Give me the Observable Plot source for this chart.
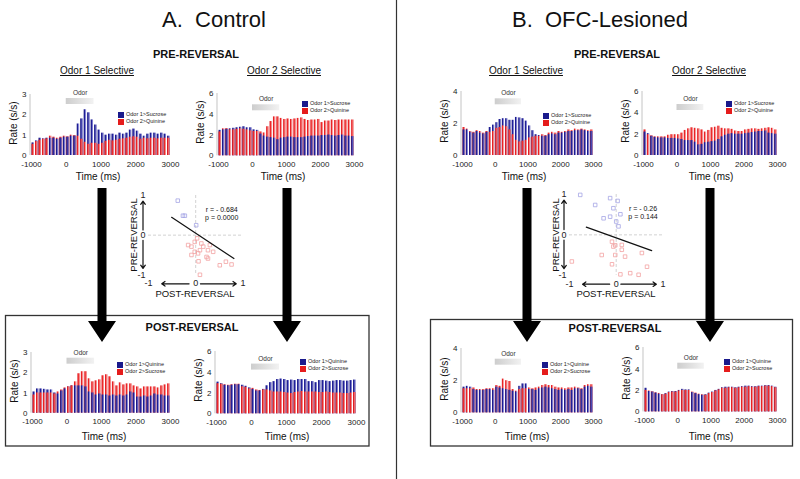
<!DOCTYPE html>
<html><head><meta charset="utf-8">
<script src="https://cdn.jsdelivr.net/npm/d3@7"></script>
<script src="https://cdn.jsdelivr.net/npm/@observablehq/plot@0.6"></script>
<style>
html,body{margin:0;padding:0;background:#fff;}
#fig{position:relative;width:800px;height:479px;overflow:hidden;font-family:"Liberation Sans",Arial,Helvetica,sans-serif;color:#111;}
.t{position:absolute;white-space:pre;transform:translate(-50%,-50%);line-height:1;}
.abs{position:absolute;}
</style></head><body>
<svg width="0" height="0" style="position:absolute"><defs>
<linearGradient id="gBlue" x1="0" x2="1" y1="0" y2="0">
<stop offset="0" stop-color="#14147e"/><stop offset="0.45" stop-color="#22229a"/><stop offset="0.75" stop-color="#8a8ad8"/><stop offset="1" stop-color="#3a3aa8"/></linearGradient>
<linearGradient id="gRed" x1="0" x2="1" y1="0" y2="0">
<stop offset="0" stop-color="#e0161c"/><stop offset="0.45" stop-color="#ee2a2a"/><stop offset="0.75" stop-color="#f6a0a0"/><stop offset="1" stop-color="#ea3a3a"/></linearGradient>
<linearGradient id="gOdor" x1="0" x2="1" y1="0" y2="0">
<stop offset="0" stop-color="#cdcdcd"/><stop offset="1" stop-color="#f2f2f2"/></linearGradient>
</defs></svg>
<div id="fig"></div>
<script>
// ---------- data ----------
const timeBins = [-1000,-900,-800,-700,-600,-500,-400,-300,-200,-100,0,100,200,300,400,500,600,700,800,900,1000,1100,1200,1300,1400,1500,1600,1700,1800,1900,2000,2100,2200,2300,2400,2500,2600,2700,2800,2900];
const binWidthMs = 100;
const xTickValues = [-1000,0,1000,2000,3000];
const odorWindow = [{start:0, end:800, label:"Odor"}];
const legendPre = ["Odor 1>Sucrose","Odor 2>Quinine"];
const legendPost = ["Odor 1>Quinine","Odor 2>Sucrose"];

// A. Control, pre-reversal, Odor 1 selective
const ctrlPreSel1_odor1 = [0.62,0.72,0.85,0.82,0.85,0.85,0.85,0.8,0.85,0.9,0.9,0.95,0.95,1.55,1.8,2.25,2.1,1.75,1.5,1.25,1.1,1.0,1.05,1.05,1.0,1.1,1.05,1.1,1.25,1.3,1.2,1.05,0.95,1.05,1.1,1.1,1.05,1.1,1.05,0.95];
const ctrlPreSel1_odor2 = [0.55,0.68,0.75,0.8,0.82,0.95,0.9,0.85,0.9,0.95,0.92,1.0,0.98,0.95,0.8,0.65,0.55,0.6,0.6,0.55,0.6,0.7,0.75,0.72,0.75,0.8,0.82,0.85,0.9,0.92,0.9,0.8,0.85,0.82,0.85,0.85,0.82,0.85,0.85,0.85];
// A. Control, pre-reversal, Odor 2 selective
const ctrlPreSel2_odor1 = [2.45,2.5,2.55,2.6,2.65,2.7,2.75,2.8,2.7,2.7,2.5,2.45,2.1,1.9,1.8,1.75,1.7,1.55,1.7,1.75,1.8,1.8,1.75,1.75,1.75,1.8,1.85,1.9,1.9,1.9,1.95,1.95,2.0,1.95,1.9,1.95,2.0,1.9,1.9,1.85];
const ctrlPreSel2_odor2 = [2.3,2.6,2.62,2.5,2.5,2.55,2.6,2.55,2.5,2.4,2.35,2.35,2.3,2.2,2.8,3.3,3.75,3.75,3.6,3.5,3.55,3.5,3.55,3.6,3.65,3.5,3.4,3.45,3.45,3.5,3.2,3.35,3.35,3.45,3.4,3.45,3.45,3.45,3.45,3.45];
// A. Control, post-reversal, Odor 1 selective
const ctrlPostSel1_odor1 = [1.05,1.2,1.2,1.18,1.15,1.15,1.0,0.95,1.1,1.2,1.3,1.35,1.35,1.35,1.35,1.3,1.05,1.0,0.9,0.95,0.9,0.9,0.85,0.9,0.85,0.9,0.85,0.9,1.05,1.0,0.8,0.8,0.85,0.8,0.85,0.95,0.9,0.9,0.85,0.85];
const ctrlPostSel1_odor2 = [0.9,1.0,1.0,1.0,1.0,1.0,0.95,1.05,1.15,1.25,1.3,1.35,1.55,1.95,2.05,2.05,1.7,1.55,1.6,1.65,1.85,1.9,1.8,1.55,1.35,1.5,1.4,1.45,1.45,1.35,1.3,1.2,1.3,1.3,1.3,1.3,1.25,1.35,1.4,1.45];
// A. Control, post-reversal, Odor 2 selective
const ctrlPostSel2_odor1 = [3.05,2.9,2.75,2.7,2.75,2.8,2.8,2.75,2.65,2.5,2.35,2.2,2.2,2.35,2.7,3.0,3.1,3.3,3.35,3.3,3.2,3.25,3.2,3.3,3.3,3.3,3.1,3.1,3.0,3.2,3.2,3.15,3.1,3.15,3.2,3.2,3.15,3.15,3.2,3.25];
const ctrlPostSel2_odor2 = [2.9,2.85,2.8,2.75,2.8,2.85,2.85,2.6,2.55,2.4,2.45,2.3,2.25,2.3,2.3,2.2,2.1,2.1,2.1,2.05,2.0,1.95,2.05,2.1,2.15,2.1,2.1,2.1,2.1,2.05,2.05,2.1,2.05,2.0,2.0,2.0,1.95,1.95,2.0,2.05];
// B. OFC-lesioned, pre-reversal, Odor 1 selective
const ofcPreSel1_odor1 = [1.6,1.6,1.45,1.4,1.5,1.4,1.35,1.45,1.75,1.9,2.05,2.25,2.3,2.3,2.2,2.2,2.38,2.35,2.3,2.15,1.85,1.55,1.3,1.25,1.2,1.2,1.3,1.35,1.3,1.4,1.4,1.45,1.5,1.5,1.55,1.55,1.6,1.55,1.5,1.5];
const ofcPreSel1_odor2 = [1.75,1.65,1.5,1.45,1.55,1.5,1.4,1.5,1.45,1.5,1.7,1.75,1.85,1.8,1.6,1.3,0.95,0.85,0.9,0.95,1.1,1.15,1.2,1.2,1.3,1.25,1.4,1.45,1.4,1.5,1.45,1.5,1.6,1.55,1.65,1.6,1.65,1.6,1.55,1.6];
// B. OFC-lesioned, pre-reversal, Odor 2 selective
const ofcPreSel2_odor1 = [2.2,2.05,1.8,1.7,1.65,1.65,1.65,1.6,1.6,1.6,1.55,1.5,1.4,1.4,1.4,1.25,1.0,1.05,1.2,1.25,1.3,1.35,1.5,1.75,1.9,2.0,2.05,2.0,2.0,2.0,2.05,2.1,2.15,2.2,2.25,2.25,2.3,2.1,2.05,2.0];
const ofcPreSel2_odor2 = [2.4,1.95,1.85,1.75,1.75,1.75,1.75,1.9,1.95,1.95,1.95,2.1,2.35,2.5,2.6,2.55,2.5,2.4,2.2,2.35,2.6,2.65,2.75,2.55,2.5,2.5,2.45,2.3,2.25,2.25,2.4,2.45,2.5,2.5,2.45,2.5,2.55,2.6,2.55,2.4];
// B. OFC-lesioned, post-reversal, Odor 1 selective
const ofcPostSel1_odor1 = [1.6,1.65,1.6,1.45,1.4,1.4,1.4,1.45,1.45,1.4,1.6,1.55,1.5,1.45,1.4,1.35,1.3,1.65,1.8,1.8,1.45,1.45,1.4,1.5,1.55,1.6,1.55,1.5,1.45,1.4,1.45,1.4,1.45,1.4,1.5,1.5,1.45,1.6,1.65,1.6];
const ofcPostSel1_odor2 = [1.5,1.5,1.5,1.55,1.45,1.45,1.45,1.5,1.5,1.5,1.7,1.65,2.1,2.0,1.95,1.45,1.35,1.45,1.5,1.5,1.55,1.5,1.55,1.6,1.7,1.75,1.7,1.7,1.6,1.55,1.55,1.5,1.55,1.55,1.6,1.55,1.5,1.7,1.75,1.75];
// B. OFC-lesioned, post-reversal, Odor 2 selective
const ofcPostSel2_odor1 = [2.2,1.9,1.85,1.75,1.65,1.6,1.7,1.85,1.9,1.9,2.0,2.1,2.05,2.05,1.8,1.7,1.6,1.55,1.6,1.75,1.85,2.0,2.1,2.25,2.3,2.3,2.3,2.25,2.3,2.35,2.4,2.4,2.35,2.35,2.4,2.4,2.45,2.45,2.4,2.3];
const ofcPostSel2_odor2 = [2.0,1.95,1.88,1.78,1.72,1.6,1.65,1.8,1.85,1.85,1.95,2.0,2.0,2.0,1.85,1.75,1.65,1.6,1.55,1.7,1.8,1.95,2.05,2.2,2.2,2.25,2.25,2.2,2.25,2.3,2.3,2.35,2.3,2.3,2.35,2.35,2.4,2.4,2.35,2.25];

// scatter: selectivity index pre vs post reversal
const scatterTicks = [-1,0,1];
const ctrlSelPost_o1 = [-0.38,-0.27,-0.23,0.01];
const ctrlSelPre_o1 = [0.87,0.49,0.49,0.25];
const ctrlSelPost_o2 = [0.03,-0.02,-0.16,-0.09,0.12,0.16,0.26,0.09,-0.02,0.05,0.23,0.26,0.06,0.64,0.51,0.76,0.09,-0.09,0.3,0.37];
const ctrlSelPre_o2 = [-0.08,-0.17,-0.25,-0.29,-0.21,-0.29,-0.38,-0.38,-0.42,-0.46,-0.55,-0.59,-0.66,-0.67,-0.76,-0.74,-1.0,-0.5,-0.25,-0.42];
const ctrlFitX = [-0.51,0.81];
const ctrlFitY = [0.45,-0.59];
const ctrlStats = ["r = - 0.684","p = 0.0000"];
const ofcSelPost_o1 = [-0.77,-0.13,-0.45,-0.06,-0.27,-0.13,0.0,0.05,0.03,0.09];
const ofcSelPre_o1 = [0.99,0.91,0.74,0.66,0.41,0.45,0.33,0.21,0.84,0.51];
const ofcSelPost_o2 = [-0.09,-0.02,-0.06,0.12,-0.31,-0.02,0.19,0.55,-0.09,0.66,-0.95,0.09,0.3,0.48,0.12];
const ofcSelPre_o2 = [-0.17,-0.26,-0.29,-0.25,-0.5,-0.5,-0.54,-0.45,-0.73,-0.79,-0.66,-0.98,-0.95,-0.99,-0.37];
const ofcFitX = [-0.64,0.76];
const ofcFitY = [0.19,-0.39];
const ofcStats = ["r = - 0.26","p = 0.144"];

// ---------- layout ----------
const FONT = '"Liberation Sans",Arial,Helvetica,sans-serif';
const fig = document.getElementById("fig");

function txt(s, x, y, css){
  const d = document.createElement("div");
  d.className = "t"; d.textContent = s;
  d.style.left = x + "px"; d.style.top = y + "px";
  Object.assign(d.style, css || {});
  fig.appendChild(d); return d;
}
function place(svg, left, top){
  svg.style.position = "absolute"; svg.style.left = left + "px"; svg.style.top = top + "px";
  fig.appendChild(svg);
}

// decorations: divider, boxes, flow arrows
const deco = d3.create("svg").attr("width",800).attr("height",479)
  .style("position","absolute").style("left","0px").style("top","0px");
deco.append("line").attr("x1",396.5).attr("x2",396.5).attr("y1",0).attr("y2",479).attr("stroke","#333").attr("stroke-width",1.2);
deco.append("rect").attr("x",5.5).attr("y",315.5).attr("width",363.5).attr("height",130.5).attr("fill","none").attr("stroke","#333").attr("stroke-width",1.3);
deco.append("rect").attr("x",430.5).attr("y",319.5).attr("width",362).attr("height",126.5).attr("fill","none").attr("stroke","#333").attr("stroke-width",1.3);
for (const cx of [102, 287, 527, 710]) {
  const y0 = 188, y1 = 321, y2 = 342, hw = 4.5, hh = 14;
  deco.append("polygon").attr("fill","#000").attr("points",
    [[cx-hw,y0],[cx+hw,y0],[cx+hw,y1],[cx+hh,y1],[cx,y2],[cx-hh,y1],[cx-hw,y1]].map(p=>p.join(",")).join(" "));
}
fig.appendChild(deco.node());

// histogram panels
const panels = [
  {o1:ctrlPreSel1_odor1, o2:ctrlPreSel1_odor2, ymax:3, yTicks:[0,1,2,3], L:31, R:170, T:94, B:155, odorTop:4, legend:[118,112], lab:legendPre, time:[98,177]},
  {o1:ctrlPreSel2_odor1, o2:ctrlPreSel2_odor2, ymax:6, yTicks:[0,2,4,6], L:218, R:354, T:92.7, B:155, odorTop:11.3, legend:[302,101], lab:legendPre, time:[283,177]},
  {o1:ctrlPostSel1_odor1, o2:ctrlPostSel1_odor2, ymax:3, yTicks:[0,1,2,3], L:32, R:170, T:352.3, B:413, odorTop:5.7, legend:[117,362], lab:legendPost, time:[104,437]},
  {o1:ctrlPostSel2_odor1, o2:ctrlPostSel2_odor2, ymax:6, yTicks:[0,2,4,6], L:216, R:356, T:350.7, B:413, odorTop:12.6, legend:[300,359], lab:legendPost, time:[287,437]},
  {o1:ofcPreSel1_odor1, o2:ofcPreSel1_odor2, ymax:4, yTicks:[0,2,4], L:462, R:593, T:91, B:155, odorTop:7.3, legend:[543,113], lab:legendPre, time:[524,177]},
  {o1:ofcPreSel2_odor1, o2:ofcPreSel2_odor2, ymax:6, yTicks:[0,2,4,6], L:643, R:777, T:91, B:155, odorTop:13, legend:[726,101], lab:legendPre, time:[711,177]},
  {o1:ofcPostSel1_odor1, o2:ofcPostSel1_odor2, ymax:4, yTicks:[0,2,4], L:462, R:593, T:348.3, B:412.7, odorTop:10.7, legend:[542,362], lab:legendPost, time:[527,437]},
  {o1:ofcPostSel2_odor1, o2:ofcPostSel2_odor2, ymax:6, yTicks:[0,2,4,6], L:644, R:777, T:347.3, B:411.7, odorTop:15.7, legend:[724,359], lab:legendPost, time:[711,437]}
];
const fills = {o1:"url(#gBlue)", o2:"url(#gRed)"};

for (const p of panels) {
  const ml = 30, mr = 6, mt = 12, mb = 16;
  const w = p.R - p.L, h = p.B - p.T;
  const rows = timeBins.map((t,i) => ({t, o1:p.o1[i], o2:p.o2[i]}));
  const back = rows.map(d => ({t:d.t, v:Math.max(d.o1,d.o2), s: d.o1 >= d.o2 ? "o1" : "o2"}));
  const front = rows.map(d => ({t:d.t, v:Math.min(d.o1,d.o2), s: d.o1 >= d.o2 ? "o2" : "o1"}));
  const bars = (data, s) => Plot.rect(data.filter(d => d.s === s), {
    x1:"t", x2: d => d.t + binWidthMs, y1: 0, y2: "v", fill: fills[s], insetLeft: 0.55, insetRight: 0.55});
  const odorHi = p.ymax * (1 - p.odorTop / h);
  const odorLo = p.ymax * (1 - (p.odorTop + 6) / h);
  const odorLab = p.ymax * (1 - (p.odorTop - 5.5) / h);
  const svg = Plot.plot({
    width: w + ml + mr, height: h + mt + mb,
    marginLeft: ml, marginRight: mr, marginTop: mt, marginBottom: mb,
    style: {fontFamily: FONT, fontSize: "8px", background: "transparent", overflow: "visible", color: "#222"},
    x: {domain: [-1000, 3000]},
    y: {domain: [0, p.ymax]},
    marks: [
      Plot.ruleX([-1000], {stroke: "#c4c4c4", dx: -1.5}),
      bars(back, "o1"), bars(back, "o2"), bars(front, "o1"), bars(front, "o2"),
      Plot.rect(odorWindow, {x1: "start", x2: "end", y1: odorLo, y2: odorHi, fill: "url(#gOdor)"}),
      Plot.text(odorWindow, {x: d => (d.start + d.end) / 2, y: odorLab, text: "label", fontSize: 6.5, fill: "#333"}),
      Plot.axisX({ticks: xTickValues, tickSize: 0, tickPadding: 5.5, tickFormat: d => String(d), label: null}),
      Plot.axisY({ticks: p.yTicks, tickSize: 0, tickPadding: 5, tickFormat: d => String(d), label: null})
    ]
  });
  place(svg, p.L - ml, p.T - mt);
  txt("Rate (s/s)", p.L - 17, (p.T + p.B) / 2 - 2, {fontSize: "10px", transform: "translate(-50%,-50%) rotate(-90deg)"});
  txt("Time (ms)", p.time[0], p.time[1], {fontSize: "10px"});
  const [lx, ly] = p.legend;
  [["#1a1a8c", p.lab[0]], ["#e51c1c", p.lab[1]]].forEach(([c, s], i) => {
    const sw = document.createElement("div");
    sw.className = "abs";
    Object.assign(sw.style, {left: lx + "px", top: (ly + i * 6.5) + "px", width: "6px", height: "6px", background: c});
    fig.appendChild(sw);
    txt(s, lx + 8, ly + i * 6.5 + 3, {fontSize: "5.5px", transform: "translate(0,-50%)", color: "#222"});
  });
}

// scatter panels
const scatters = [
  {bx: ctrlSelPost_o1, by: ctrlSelPre_o1, rx: ctrlSelPost_o2, ry: ctrlSelPre_o2, fx: ctrlFitX, fy: ctrlFitY, stats: ctrlStats,
   L: 148.3, R: 242.7, T: 195, B: 274.3, statPos: [221.7, 209], preLab: [134, 235], postLab: [195, 294]},
  {bx: ofcSelPost_o1, by: ofcSelPre_o1, rx: ofcSelPost_o2, ry: ofcSelPre_o2, fx: ofcFitX, fy: ofcFitY, stats: ofcStats,
   L: 569.3, R: 662.7, T: 194.3, B: 275, statPos: [643, 208], preLab: [556, 235], postLab: [616, 294]}
];
const arrowSpanV = [{a: 0.13, b: 0.86}, {a: -0.13, b: -0.84}];
const arrowSpanH = [{a: -0.14, b: -0.72}, {a: 0.1, b: 0.86}];

for (const s of scatters) {
  const ml = 22, mr = 8, mt = 8, mb = 16;
  const w = s.R - s.L, h = s.B - s.T;
  const blue = s.bx.map((x, i) => ({x, y: s.by[i]}));
  const red = s.rx.map((x, i) => ({x, y: s.ry[i]}));
  const fit = s.fx.map((x, i) => ({x, y: s.fy[i]}));
  const svg = Plot.plot({
    width: w + ml + mr, height: h + mt + mb,
    marginLeft: ml, marginRight: mr, marginTop: mt, marginBottom: mb,
    style: {fontFamily: FONT, fontSize: "9px", background: "transparent", overflow: "visible", color: "#222"},
    x: {domain: [-1, 1]}, y: {domain: [-1, 1]},
    marks: [
      Plot.ruleX([0], {stroke: "#d2d2d2", strokeDasharray: "3,2"}),
      Plot.ruleY([0], {stroke: "#d2d2d2", strokeDasharray: "3,2"}),
      Plot.dot(red, {x: "x", y: "y", symbol: "square", r: 2, stroke: "#f2a2a2", strokeWidth: 0.8}),
      Plot.dot(blue, {x: "x", y: "y", symbol: "square", r: 2, stroke: "#a4a4e4", strokeWidth: 0.8}),
      Plot.line(fit, {x: "x", y: "y", stroke: "#111", strokeWidth: 1.2}),
      Plot.arrow(arrowSpanV, {x1: -1, x2: -1, y1: "a", y2: "b", dx: -5.5, stroke: "#111", strokeWidth: 1.2, headLength: 5, headAngle: 70}),
      Plot.arrow(arrowSpanH, {y1: -1, y2: -1, x1: "a", x2: "b", dy: 9, stroke: "#111", strokeWidth: 1.2, headLength: 5, headAngle: 70}),
      Plot.axisX({ticks: scatterTicks, tickSize: 0, tickPadding: 5, tickFormat: d => String(d), label: null}),
      Plot.axisY({ticks: scatterTicks, tickSize: 0, tickPadding: 3, tickFormat: d => String(d), label: null})
    ]
  });
  place(svg, s.L - ml, s.T - mt);
  txt(s.stats[0], s.statPos[0], s.statPos[1], {fontSize: "7px"});
  txt(s.stats[1], s.statPos[0], s.statPos[1] + 7.5, {fontSize: "7px"});
  txt("PRE-REVERSAL", s.preLab[0], s.preLab[1], {fontSize: "9.5px", transform: "translate(-50%,-50%) rotate(-90deg)"});
  txt("POST-REVERSAL", s.postLab[0], s.postLab[1], {fontSize: "9.5px"});
}

// headings
txt("A.  Control", 214, 20, {fontSize: "22px"});
txt("B.  OFC-Lesioned", 600, 20, {fontSize: "22px"});
txt("PRE-REVERSAL", 196, 54, {fontSize: "11px", fontWeight: "bold"});
txt("PRE-REVERSAL", 617, 54, {fontSize: "11px", fontWeight: "bold"});
txt("Odor 1 Selective", 97, 71, {fontSize: "10px", textDecoration: "underline"});
txt("Odor 2 Selective", 284, 71, {fontSize: "10px", textDecoration: "underline"});
txt("Odor 1 Selective", 526, 71, {fontSize: "10px", textDecoration: "underline"});
txt("Odor 2 Selective", 709, 71, {fontSize: "10px", textDecoration: "underline"});
txt("POST-REVERSAL", 192, 327, {fontSize: "11px", fontWeight: "bold"});
txt("POST-REVERSAL", 615, 328, {fontSize: "11px", fontWeight: "bold"});
</script></body></html>
